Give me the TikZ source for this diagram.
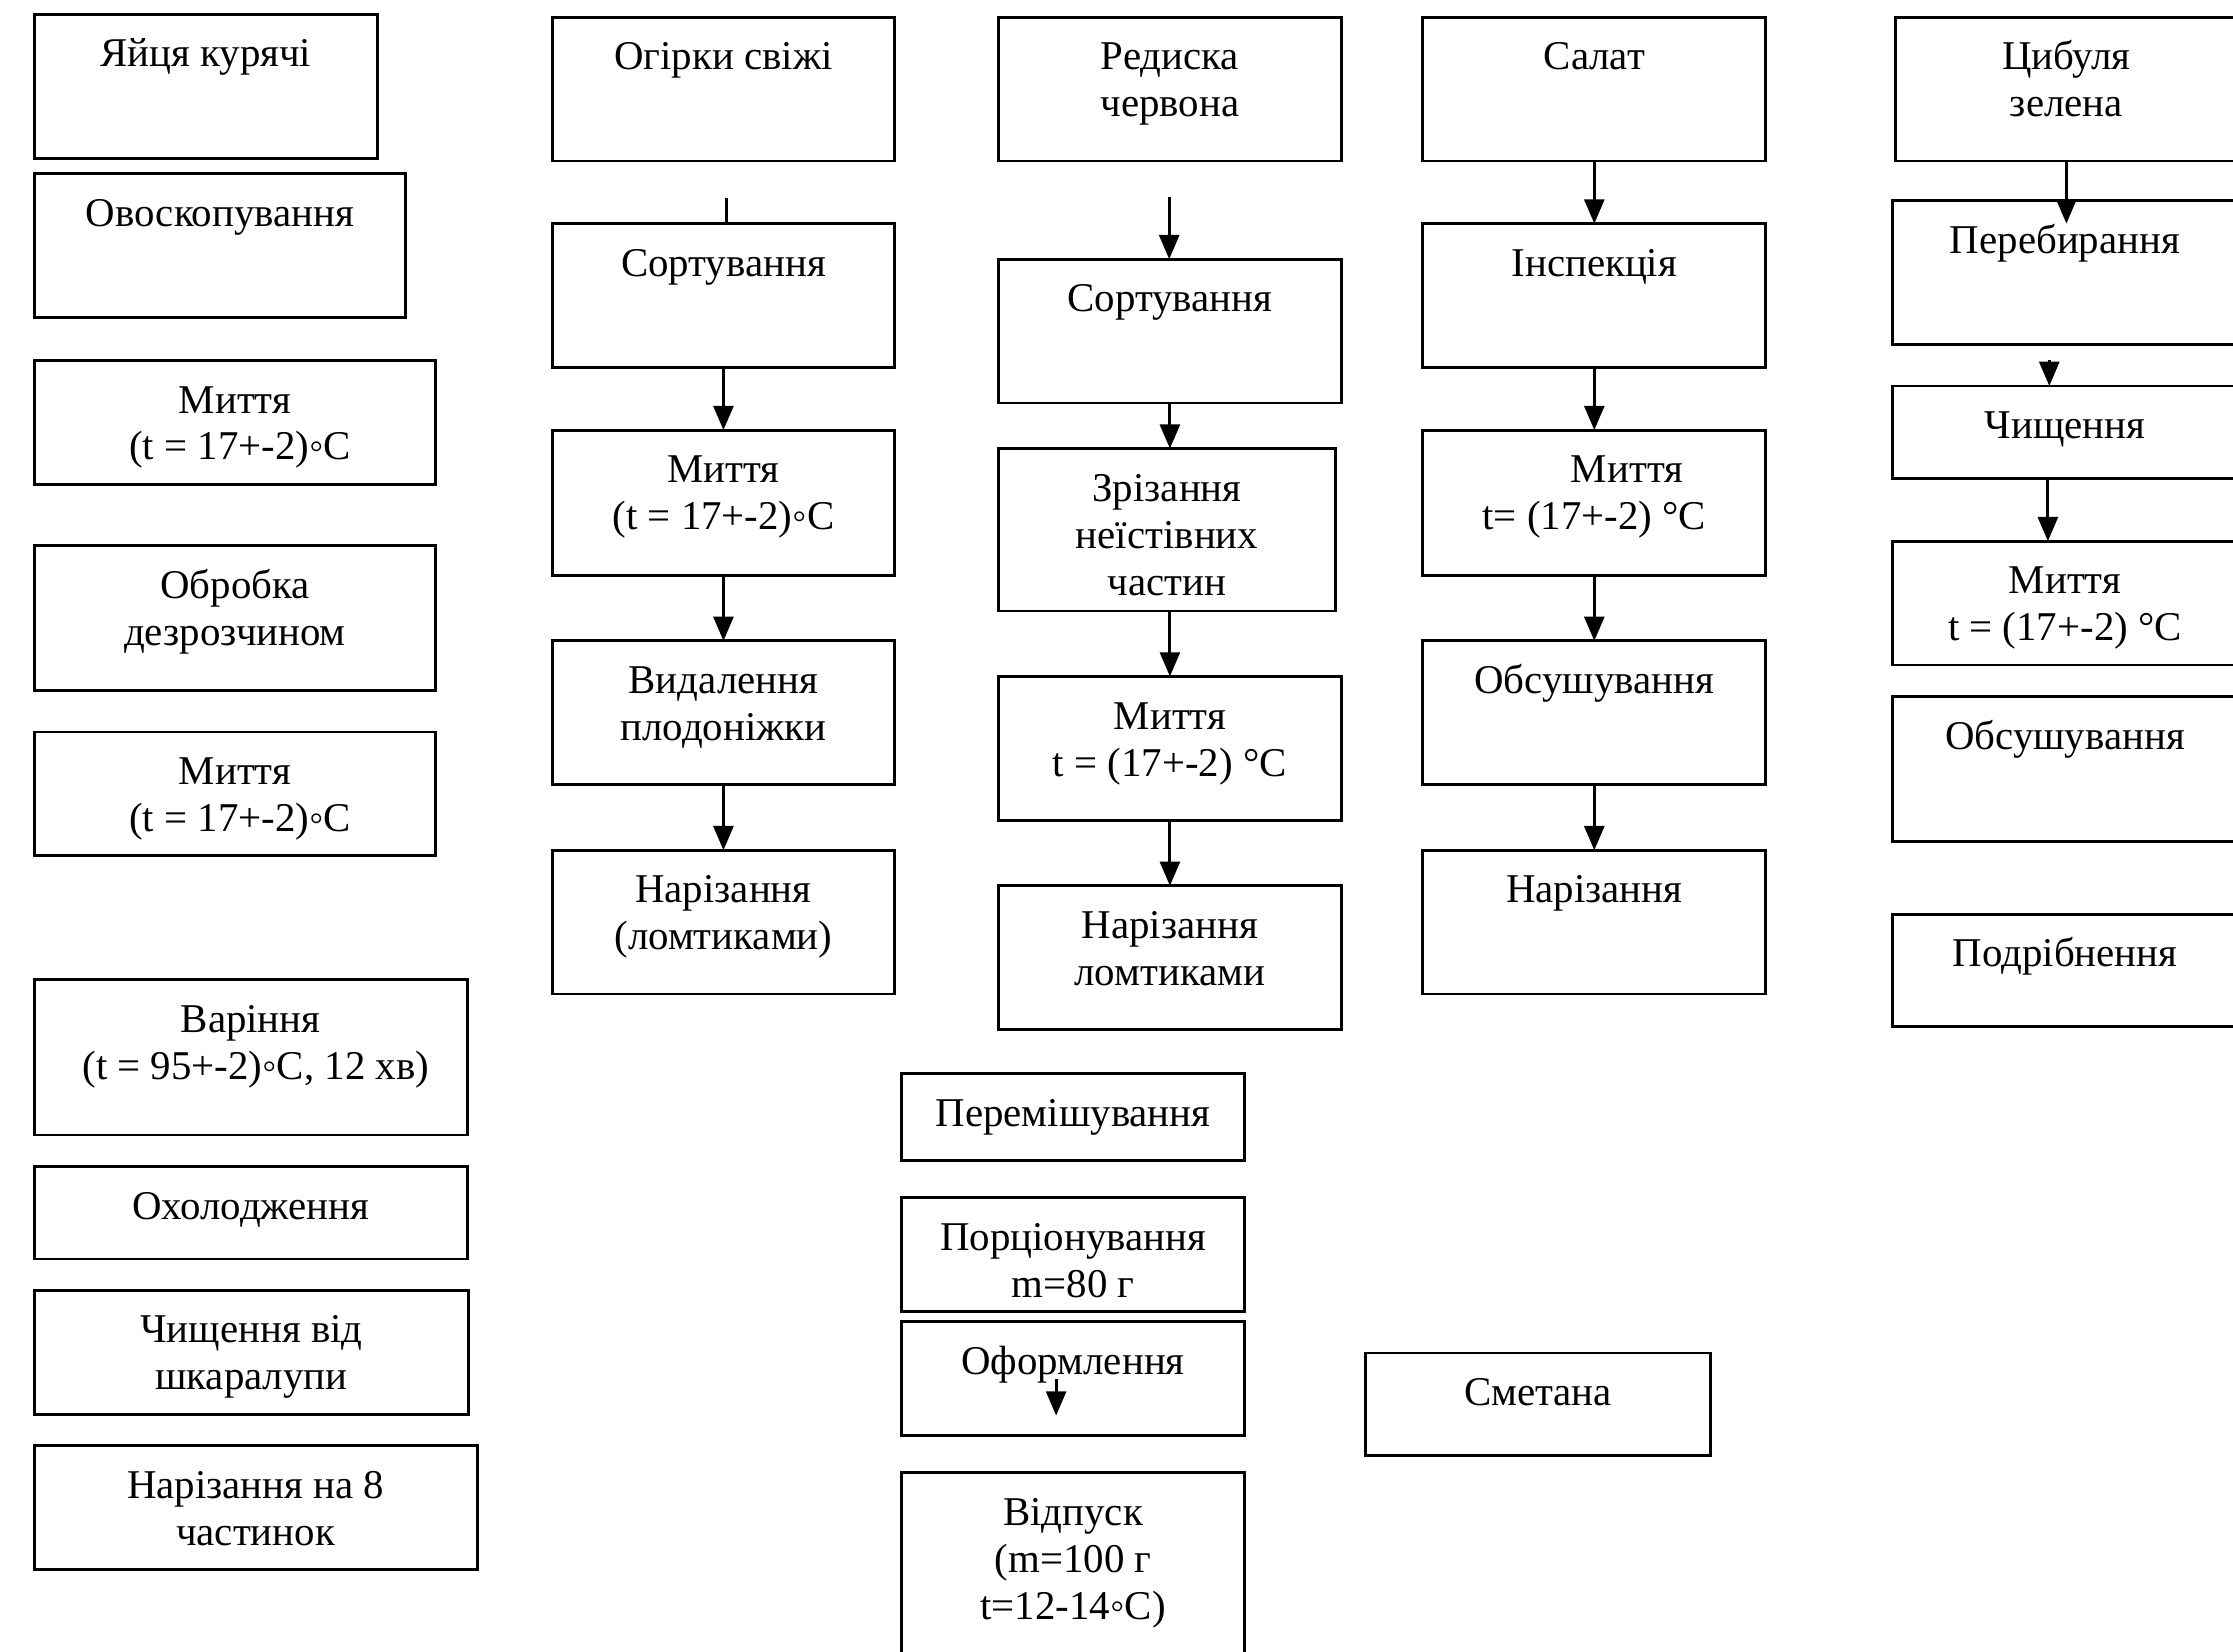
\documentclass[tikz,border=0pt]{standalone}
\usepackage{fontspec}
\setmainfont{Liberation Serif}
\usetikzlibrary{arrows.meta}
\tikzset{
  boxst/.style={draw=black, line width=2pt, inner sep=0pt, outer sep=0pt, rectangle},
  txtst/.style={inner sep=0pt, outer sep=0pt, anchor=north, align=center,
    font=\fontsize{28.7}{33}\selectfont},
  arr/.style={-{Triangle[length=17pt,width=14pt]}, line width=2pt},
  plain/.style={line width=2pt}
}
\newcommand\firststrut{\rule{0pt}{28pt}}
\newcommand\pbox[6]{%
  \node[boxst, minimum width={(#4-#2)*1pt}, minimum height={(#5-#3)*1pt}, anchor=north west] (#1) at (#2,#3) {};
  \node[txtst] (#1t) at ([yshift=-9pt]#1.north) {\firststrut #6};
}
\begin{document}
\begin{tikzpicture}[x=1pt,y=-1pt]
\useasboundingbox[fill=white] (0,0) rectangle (1568,1160);
\begin{scope}
\clip (0,0) rectangle (1568,1160);
% column 1: eggs
\pbox{e1}{24}{10}{265}{111}{Яйця курячі}
\pbox{e2}{24}{122}{285}{223}{Овоскопування}
\pbox{e3}{24}{253}{306}{340}{Миття\\\hspace*{0.25em}(t = 17+-2)◦C}
\pbox{e4}{24}{383}{306}{485}{Обробка\\дезрозчином}
\pbox{e5}{24}{514}{306}{601}{Миття\\\hspace*{0.25em}(t = 17+-2)◦C}
\pbox{e6}{24}{688}{328}{797}{Варіння\\\hspace*{0.25em}(t = 95+-2)◦C, 12 хв)}
\pbox{e7}{24}{819}{328}{884}{Охолодження}
\pbox{e8}{24}{906}{329}{993}{Чищення від\\шкаралупи}
\pbox{e9}{24}{1015}{335}{1102}{Нарізання на 8\\частинок}
% column 2: cucumbers
\pbox{o1}{388}{12}{628}{113}{Огірки свіжі}
\pbox{o2}{388}{157}{628}{258}{Сортування}
\pbox{o3}{388}{302}{628}{404}{Миття\\(t = 17+-2)◦C}
\pbox{o4}{388}{450}{628}{551}{Видалення\\плодоніжки}
\pbox{o5}{388}{597}{628}{698}{Нарізання\\(ломтиками)}
\coordinate (o0) at (510,139);
\draw[plain] (o0) -- (o0 |- o2.north);
\draw[arr] (o2.south) -- (o3.north);
\draw[arr] (o3.south) -- (o4.north);
\draw[arr] (o4.south) -- (o5.north);
% column 3: radish
\pbox{r1}{701}{12}{942}{113}{Редиска\\червона}
\pbox{r2}{701}{182}{942}{283}{Сортування}
\pbox{r3}{701}{315}{938}{429}{Зрізання\\неїстівних\\частин}
\pbox{r4}{701}{475}{942}{576}{Миття\\t = (17+-2) °C}
\pbox{r5}{701}{622}{942}{723}{Нарізання\\ломтиками}
\coordinate (r0) at (821,138);
\draw[arr] (r0) -- (r0 |- r2.north);
\draw[arr] (r2.south) -- (r2.south |- r3.north);
\draw[arr] (r3.south -| r4.north) -- (r4.north);
\draw[arr] (r4.south) -- (r5.north);
% column 4: lettuce
\pbox{s1}{999}{12}{1240}{113}{Салат}
\pbox{s2}{999}{157}{1240}{258}{Інспекція}
\pbox{s3}{999}{302}{1240}{404}{\hspace*{46pt}Миття\\t= (17+-2) °C}
\pbox{s4}{999}{450}{1240}{551}{Обсушування}
\pbox{s5}{999}{597}{1240}{698}{Нарізання}
\draw[arr] (s1.south) -- (s2.north);
\draw[arr] (s2.south) -- (s3.north);
\draw[arr] (s3.south) -- (s4.north);
\draw[arr] (s4.south) -- (s5.north);
% column 5: green onion
\pbox{z1}{1331}{12}{1571}{113}{Цибуля\\зелена}
\pbox{z2}{1329}{141}{1571}{242}{Перебирання}
\pbox{z3}{1329}{271}{1571}{336}{Чищення}
\pbox{z4}{1329}{380}{1571}{467}{Миття\\t = (17+-2) °C}
\pbox{z5}{1329}{489}{1571}{591}{Обсушування}
\pbox{z6}{1329}{642}{1571}{721}{Подрібнення}
\draw[arr] (z1.south) -- ([yshift=-16pt]z1.south |- z2.north);
\coordinate (z2a) at (1439,253);
\draw[arr] (z2a) -- (z2a |- z3.north);
\draw[arr] ([xshift=-12pt]z3.south) -- ([xshift=-12pt]z4.north);
% middle bottom
\pbox{m1}{633}{754}{874}{815}{Перемішування}
\pbox{m2}{633}{841}{874}{921}{Порціонування\\m=80 г}
\pbox{m3}{633}{928}{874}{1008}{Оформлення}
\coordinate (m3a) at (741.6,968);
\coordinate (m3b) at (741.6,994);
\draw[arr] (m3a) -- (m3b);
\pbox{m4}{633}{1034}{874}{1180}{Відпуск\\(m=100 г\\t=12-14◦C)}
\pbox{sm}{959}{950}{1201}{1022}{Сметана}
\end{scope}
\end{tikzpicture}
\end{document}
